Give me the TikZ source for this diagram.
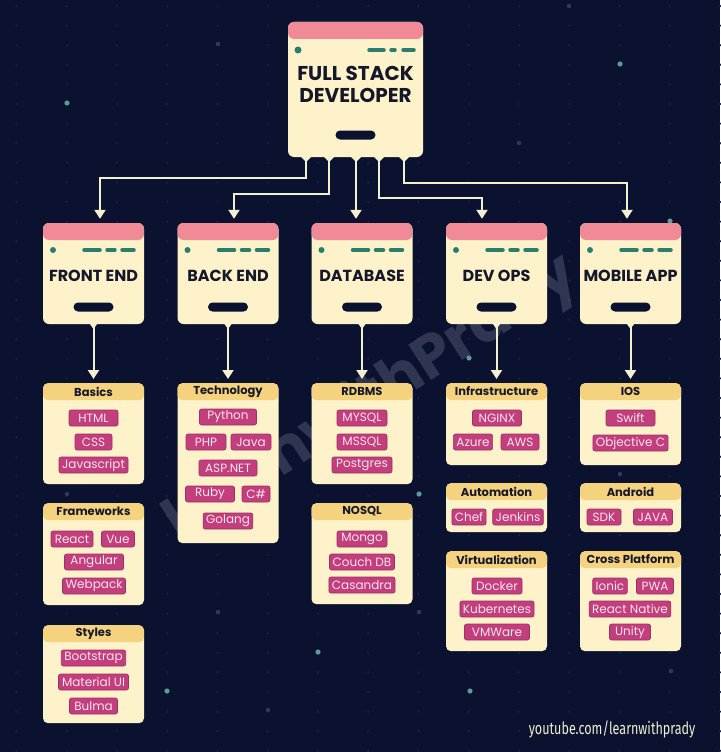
\documentclass[tikz,border=0pt]{standalone}
\usepackage{fontspec}
\setmainfont{Poppins}
\newfontfamily\creditfont{Fira Sans}
\usepackage{tikz}
\usetikzlibrary{arrows.meta}

\definecolor{night}{HTML}{0A1230}
\definecolor{speck}{HTML}{18223F}
\definecolor{glow}{HTML}{5E9C92}
\definecolor{haze}{HTML}{2C3B5C}
\definecolor{cream}{HTML}{FDF2CA}
\definecolor{rose}{HTML}{F08A96}
\definecolor{gold}{HTML}{F5D27E}
\definecolor{berry}{HTML}{C23E7C}
\definecolor{blush}{HTML}{FCE4EE}
\definecolor{dash-teal}{HTML}{2C7D6F}
\definecolor{wire}{HTML}{F3EFD3}
\definecolor{ink}{HTML}{15172A}
\definecolor{mist}{HTML}{C8CAD8}

\tikzset{
    main-box/.style = {fill=cream, rectangle, rounded corners=6pt, inner sep=0pt, minimum width=135pt, minimum height=135pt,
        path picture={\fill[rose] (path picture bounding box.north west) rectangle ([yshift=-17pt]path picture bounding box.north east);}},
    col-box/.style = {main-box, minimum width=101pt, minimum height=101pt},
    sub-box/.style = {fill=cream, rectangle, rounded corners=5pt, inner sep=0pt, minimum width=101pt, anchor=north,
        path picture={\fill[gold] (path picture bounding box.north west) rectangle ([yshift=-17pt]path picture bounding box.north east);}},
    main-title/.style = {font=\bfseries\fontsize{20}{22}\selectfont, text=ink, align=center},
    col-title/.style = {font=\bfseries\fontsize{16}{18}\selectfont, text=ink},
    sub-title/.style = {font=\bfseries\fontsize{11.5}{13}\selectfont, text=ink},
    tag/.style = {fill=berry, draw=berry!80!black, line width=0.6pt, text=blush, rounded corners=2pt, inner xsep=3pt, inner ysep=0pt,
        minimum height=16pt, minimum width=#1, font=\fontsize{12}{13}\selectfont},
    tag/.default = 0pt,
    pill/.style = {fill=night, rectangle, rounded corners=4.5pt, minimum width=40pt, minimum height=9pt, inner sep=0pt},
    dash-line/.style = {dash-teal, line width=3.5pt, line cap=round},
    wire-line/.style = {wire, line width=2pt, -{Triangle[width=11pt,length=9pt]}},
}

\begin{document}
\begin{tikzpicture}[x=1pt, y=-1pt]
\fill[night] (0,0) rectangle (720,752);
\useasboundingbox (0,0) rectangle (720,752);

% dotted background
\foreach \gx in {0,...,14}
    \foreach \gy in {0,...,38}
        \fill[speck] ({16.5+50.25*\gx},{6+19.6*\gy}) circle (1.3pt);
\foreach \p in {(67,103),(620,64),(469,358),(419,494),(318,652),(167,691),(470,691),(670,221)}
    \fill[glow] \p circle (2.6pt);
\foreach \p in {(218,44),(569,6),(519,143),(67,494),(620,474),(419,612),(218,612),(671,671),(268,710)}
    \fill[haze] \p circle (2.2pt);

% watermark
\node[rotate=33, text=mist, opacity=0.2, font=\bfseries\fontsize{60}{60}\selectfont] (mark) at (372,400) {learnwithPrady};

% top box
\node[main-box] (fsd) at (355.5,89.5) {};
\node[main-title] (fsd-title) at (355.5,84) {FULL STACK\\DEVELOPER};
\fill[dash-teal] (298,50) circle (3.5pt);
\draw[dash-line] (369,50) -- (384,50) (391,50) -- (395,50) (403,50) -- (414,50);
\node[pill] (fsd-pill) at (355.5,135) {};
\foreach \ex in {306,329,356,379,404}
    \fill[cream] (\ex-6,156) -- (\ex,162) -- (\ex+6,156) -- cycle;

% second row
\foreach \name/\cx/\title in {front/93.5/FRONT END, back/228/BACK END, db/362/DATABASE, ops/496.5/DEV OPS, mobile/630.5/MOBILE APP}{
    \node[col-box] (\name) at (\cx,273.5) {};
    \node[col-title] (\name-title) at (\cx,276) {\title};
    \fill[dash-teal] ({\cx-40.5},250) circle (3pt);
    \draw[dash-line] ({\cx-9.5},250) -- ({\cx+6.5},250) ({\cx+13.5},250) -- ({\cx+21.5},250) ({\cx+28.5},250) -- ({\cx+40.5},250);
    \node[pill] (\name-pill) at (\cx,307) {};
    \fill[cream] ({\cx-5},322) -- (\cx,329) -- ({\cx+5},322) -- cycle;
}

% sub boxes
\node[sub-box, minimum height=101pt] (basics) at (93.5,383) {};
\node[sub-box, minimum height=102pt] (frameworks) at (93.5,503) {};
\node[sub-box, minimum height=98pt] (styles) at (93.5,625) {};
\node[sub-box, minimum height=160pt] (tech) at (228,383) {};
\node[sub-box, minimum height=101pt] (rdbms) at (362,383) {};
\node[sub-box, minimum height=101pt] (nosql) at (362,503) {};
\node[sub-box, minimum height=82pt] (infra) at (496.5,383) {};
\node[sub-box, minimum height=49pt] (automation) at (496.5,483) {};
\node[sub-box, minimum height=100pt] (virtual) at (496.5,551) {};
\node[sub-box, minimum height=82pt] (ios) at (630.5,383) {};
\node[sub-box, minimum height=49pt] (android) at (630.5,483) {};
\node[sub-box, minimum height=100pt] (cross) at (630.5,551) {};

\foreach \sub/\title in {basics/Basics, frameworks/Frameworks, styles/Styles, tech/Technology, rdbms/RDBMS, nosql/NOSQL,
    infra/Infrastructure, automation/Automation, virtual/Virtualization, ios/IOS, android/Android, cross/Cross Platform}
    \node[sub-title] (\sub-title) at ([yshift=-8.5pt]\sub.north) {\title};

% tags
\node[tag=49pt] (html) at (93.5,418) {HTML};
\node[tag=37pt] (css) at (93.5,442) {CSS};
\node[tag=69pt] (js) at (93.5,465) {Javascript};
\node[tag=42pt] (react) at (72,539) {React};
\node[tag=33pt] (vue) at (118,539) {Vue};
\node[tag=59pt] (angular) at (94,562) {Angular};
\node[tag=63pt] (webpack) at (94,586) {Webpack};
\node[tag=63pt] (bootstrap) at (93.5,658) {Bootstrap};
\node[tag=70pt] (material) at (93.5,682) {Material UI};
\node[tag=48pt] (bulma) at (93.5,706) {Bulma};

\node[tag=57pt] (python) at (228,417) {Python};
\node[tag=40pt] (php) at (206,442) {PHP};
\node[tag=40pt] (java) at (251,442) {Java};
\node[tag=58pt] (aspnet) at (228,468) {ASP.NET};
\node[tag=49pt] (ruby) at (210,494) {Ruby};
\node[tag=28pt] (csharp) at (256,494) {C\#};
\node[tag=49pt] (golang) at (228,521) {Golang};

\node[tag=50pt] (mysql) at (362,418) {MYSQL};
\node[tag=50pt] (mssql) at (362,442) {MSSQL};
\node[tag=60pt] (postgres) at (362,465) {Postgres};
\node[tag=50pt] (mongo) at (362,539) {Mongo};
\node[tag=65pt] (couch) at (362,562) {Couch DB};
\node[tag=65pt] (casandra) at (362,585) {Casandra};

\node[tag=49pt] (nginx) at (497,418) {NGINX};
\node[tag=39pt] (azure) at (473,442) {Azure};
\node[tag=38pt] (aws) at (520,442) {AWS};
\node[tag=34pt] (chef) at (469,517) {Chef};
\node[tag=50pt] (jenkins) at (518,517) {Jenkins};
\node[tag=50pt] (docker) at (497,586) {Docker};
\node[tag=74pt] (k8s) at (497,609) {Kubernetes};
\node[tag=65pt] (vmware) at (497,632) {VMWare};

\node[tag=49pt] (swift) at (630.5,418) {Swift};
\node[tag=72pt] (objc) at (630.5,443) {Objective C};
\node[tag=34pt] (sdk) at (604,517) {SDK};
\node[tag=39pt] (javaa) at (653,517) {JAVA};
\node[tag=33pt] (ionic) at (610,586) {Ionic};
\node[tag=37pt] (pwa) at (655,586) {PWA};
\node[tag=79pt] (rn) at (630,609) {React Native};
\node[tag=41pt] (unity) at (630,632) {Unity};

% connectors
\coordinate (exit-front) at (306,157);
\coordinate (exit-back) at (329,157);
\coordinate (exit-db) at (356,157);
\coordinate (exit-ops) at (379,157);
\coordinate (exit-mobile) at (404,157);
\draw[wire-line, shorten >=4pt] (exit-front) -- ++(0,21) -| ([xshift=6.5pt]front.north);
\draw[wire-line, shorten >=4pt] (exit-back) -- ++(0,37) -| ([xshift=6pt]back.north);
\draw[wire-line, shorten >=4pt] (exit-db) -- (exit-db |- db.north);
\draw[wire-line, shorten >=4pt] (exit-ops) -- ++(0,41) -| ([xshift=-14.5pt]ops.north);
\draw[wire-line, shorten >=4pt] (exit-mobile) -- ++(0,26) -| ([xshift=-3.5pt]mobile.north);
\foreach \a/\b in {front/basics, back/tech, db/rdbms, ops/infra, mobile/ios}
    \draw[wire-line, shorten >=4pt] (\a.south) -- (\b.north);

% credit
\node[anchor=east, text=wire, xscale=0.74, font=\creditfont\fontsize{17}{20}\selectfont] (credit) at (698,729) {youtube.com/learnwithprady};
\end{tikzpicture}
\end{document}
